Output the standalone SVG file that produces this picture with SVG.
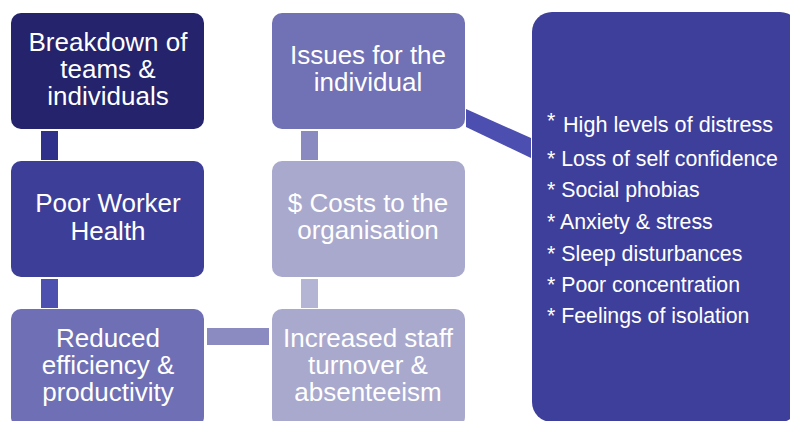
<svg xmlns="http://www.w3.org/2000/svg" width="790" height="421" viewBox="0 0 790 421">
  <style>
    text { font-family: "Liberation Sans", Arial, sans-serif; fill: #ffffff; }
    .node text { font-size: 26px; text-anchor: middle; }
    .list text { font-size: 21.3px; }
  </style>
  <rect width="790" height="421" fill="#ffffff"/>

  <!-- connectors -->
  <g id="connectors">
    <rect x="41" y="131" width="17" height="29" fill="#2f308a"/>
    <rect x="41" y="279" width="17" height="29" fill="#4e50b0"/>
    <rect x="207" y="328" width="62" height="17" fill="#8b8bc1"/>
    <rect x="301" y="279" width="17" height="29" fill="#b4b4d4"/>
    <rect x="301" y="131" width="17" height="29" fill="#8a8ac0"/>
    <polygon points="466,109 531,138 531,158 466,127" fill="#4c4eb0"/>
  </g>

  <!-- left column -->
  <g id="breakdown" class="node">
    <rect x="11" y="13" width="193" height="116" rx="10" fill="#24236b"/>
    <text x="108" y="51">Breakdown of<tspan x="108" dy="27">teams &amp;</tspan><tspan x="108" dy="27">individuals</tspan></text>
  </g>
  <g id="poor-health" class="node">
    <rect x="11" y="161" width="193" height="116" rx="10" fill="#3d3e98"/>
    <text x="108" y="212">Poor Worker<tspan x="108" dy="28">Health</tspan></text>
  </g>
  <g id="reduced-efficiency" class="node">
    <rect x="11" y="309" width="193" height="118" rx="10" fill="#6e6fb4"/>
    <text x="108" y="347">Reduced<tspan x="108" dy="27">efficiency &amp;</tspan><tspan x="108" dy="27">productivity</tspan></text>
  </g>

  <!-- middle column -->
  <g id="issues" class="node">
    <rect x="272" y="13" width="193" height="116" rx="10" fill="#7171b5"/>
    <text x="368" y="64">Issues for the<tspan x="368" dy="27">individual</tspan></text>
  </g>
  <g id="costs" class="node">
    <rect x="272" y="161" width="193" height="116" rx="10" fill="#a9a9cd"/>
    <text x="368" y="212">$ Costs to the<tspan x="368" dy="27">organisation</tspan></text>
  </g>
  <g id="turnover" class="node">
    <rect x="272" y="309" width="193" height="118" rx="10" fill="#a9a9cd"/>
    <text x="368" y="347">Increased staff<tspan x="368" dy="27">turnover &amp;</tspan><tspan x="368" dy="27">absenteeism</tspan></text>
  </g>

  <!-- individual issues list -->
  <g id="issues-list" class="list">
    <rect x="532" y="12" width="268" height="410" rx="20" fill="#3e3f9a"/>
    <text x="547" y="132"><tspan dy="-4">*</tspan><tspan x="563" dy="4" style="font-size:21.6px">High levels of distress</tspan><tspan x="547" y="166">* Loss of self confidence</tspan><tspan x="547" y="197">* Social phobias</tspan><tspan x="547" y="229">* Anxiety &amp; stress</tspan><tspan x="547" y="261">* Sleep disturbances</tspan><tspan x="547" y="292">* Poor concentration</tspan><tspan x="547" y="323">* Feelings of isolation</tspan></text>
  </g>
</svg>
